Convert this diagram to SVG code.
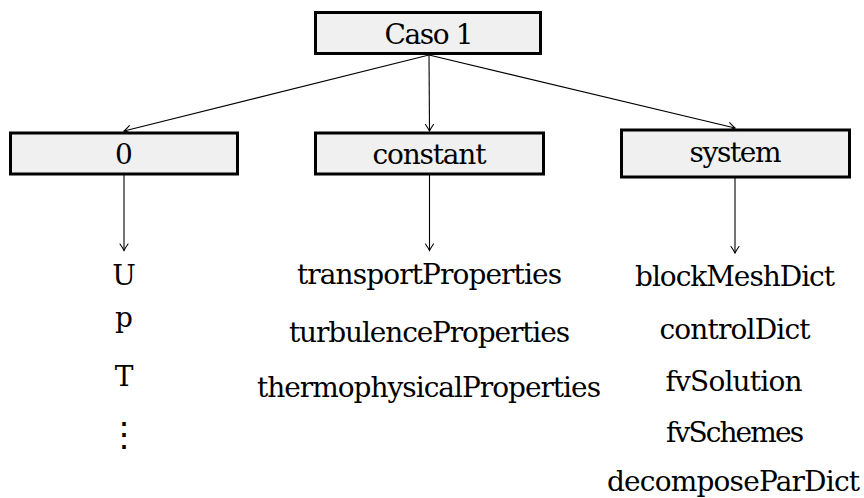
<svg xmlns="http://www.w3.org/2000/svg" width="864" height="498" viewBox="0 0 864 498">
<style>
.box{fill:#f0f0f0;stroke:#000;stroke-width:3}
.t{font-family:'DejaVu Serif','Liberation Serif',serif;font-size:28px;fill:#000;text-anchor:middle}
.c{stroke:#000;stroke-width:1.1;fill:none;marker-end:url(#ah)}
</style>
<defs>
<marker id="ah" markerUnits="userSpaceOnUse" markerWidth="12" markerHeight="12" refX="0" refY="0" viewBox="-8 -6 10 12" orient="auto">
<path d="M-6.5,-4 Q-2.5,-1.2 0,0 Q-2.5,1.2 -6.5,4" fill="none" stroke="#000" stroke-width="1.1" stroke-linecap="round"/>
</marker>
</defs>
<rect width="864" height="498" fill="#fff"/>
<g id="connectors">
<line class="c" x1="429" y1="55" x2="124" y2="131"/>
<line class="c" x1="429" y1="55" x2="429.5" y2="131"/>
<line class="c" x1="429" y1="55" x2="735" y2="128"/>
<line class="c" x1="124" y1="175" x2="124" y2="250.5"/>
<line class="c" x1="429.5" y1="175" x2="429.5" y2="250.5"/>
<line class="c" x1="735" y1="178" x2="735" y2="253"/>
</g>
<g id="caso1">
<rect class="box" x="315.5" y="12.5" width="225" height="41"/>
<text class="t" x="429" y="44" textLength="89" lengthAdjust="spacing">Caso 1</text>
</g>
<g id="n0">
<rect class="box" x="10.5" y="133" width="227" height="41"/>
<text class="t" x="124" y="164">0</text>
</g>
<g id="constant">
<rect class="box" x="315.5" y="133" width="228" height="41"/>
<text class="t" x="429.5" y="164" textLength="114" lengthAdjust="spacing">constant</text>
</g>
<g id="system">
<rect class="box" x="621.5" y="130" width="228" height="47"/>
<text class="t" x="735.5" y="162" textLength="92" lengthAdjust="spacing">system</text>
</g>
<g id="files0">
<text class="t" x="124" y="285">U</text>
<text class="t" x="124" y="327">p</text>
<text class="t" x="124" y="386">T</text>
<text class="t" x="124" y="446" style="font-size:34px">⋮</text>
</g>
<g id="filesConstant">
<text class="t" x="429.5" y="283.5" textLength="265" lengthAdjust="spacing">transportProperties</text>
<text class="t" x="429.5" y="341.5" textLength="281" lengthAdjust="spacing">turbulenceProperties</text>
<text class="t" x="429" y="396.5" textLength="344" lengthAdjust="spacing">thermophysicalProperties</text>
</g>
<g id="filesSystem">
<text class="t" x="735" y="286" textLength="200" lengthAdjust="spacing">blockMeshDict</text>
<text class="t" x="735" y="339" textLength="151" lengthAdjust="spacing">controlDict</text>
<text class="t" x="734" y="391" textLength="137" lengthAdjust="spacing">fvSolution</text>
<text class="t" x="735" y="442" textLength="138" lengthAdjust="spacing">fvSchemes</text>
<text class="t" x="733.5" y="491" textLength="253" lengthAdjust="spacing">decomposeParDict</text>
</g>
</svg>
